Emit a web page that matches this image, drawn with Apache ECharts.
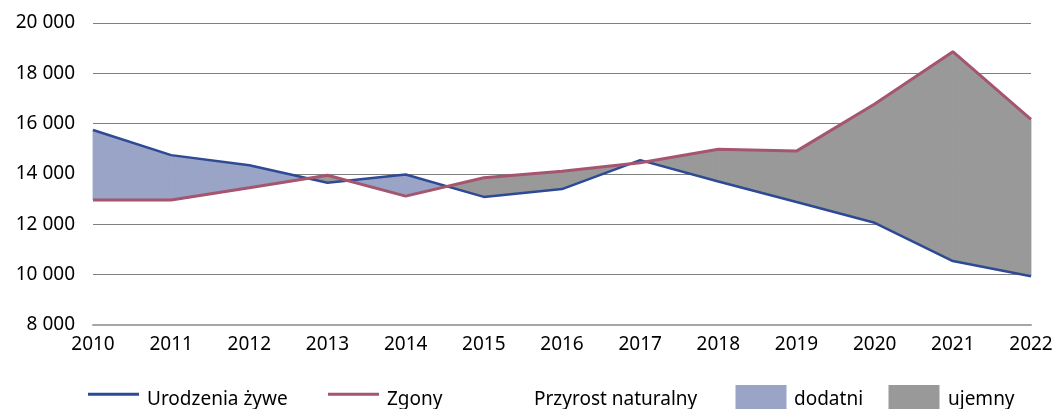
<!DOCTYPE html>
<html>
<head>
<meta charset="utf-8">
<script src="https://cdn.jsdelivr.net/npm/echarts@6/dist/echarts.min.js"></script>
<style>
html,body{margin:0;padding:0;background:#fff;}
#chart{width:1059px;height:409px;}
</style>
</head>
<body>
<div id="chart"></div>
<script>
var years = ['2010','2011','2012','2013','2014','2015','2016','2017','2018','2019','2020','2021','2022'];
var births = [15750, 14750, 14350, 13650, 13980, 13090, 13400, 14550, 13700, 12890, 12060, 10540, 9940];
var deaths = [12970, 12970, 13450, 13950, 13120, 13850, 14110, 14450, 14980, 14910, 16780, 18860, 16170];
var yTicks = [8000, 20000, 2000];
var legendLabels = ['Urodzenia żywe', 'Zgony', 'Przyrost naturalny', 'dodatni', 'ujemny'];

var FONT = 'Noto Sans';
var BLUE = '#2E4A94';
var RED = '#A5566E';
var FILL_POS = '#99A4C7';
var FILL_NEG = '#999999';

var segments = [];
for (var i = 0; i < years.length - 1; i++) {
  segments.push([i, births[i], deaths[i], births[i + 1], deaths[i + 1]]);
}

function fillRender(sign, color) {
  return function (params, api) {
    var i = api.value(0);
    var b0 = api.value(1), d0 = api.value(2), b1 = api.value(3), d1 = api.value(4);
    var pb0 = api.coord([i, b0]), pd0 = api.coord([i, d0]);
    var pb1 = api.coord([i + 1, b1]), pd1 = api.coord([i + 1, d1]);
    var g0 = sign * (b0 - d0), g1 = sign * (b1 - d1);
    var pts;
    if (g0 >= 0 && g1 >= 0) pts = [pb0, pb1, pd1, pd0];
    else if (g0 <= 0 && g1 <= 0) return null;
    else {
      var t = g0 / (g0 - g1);
      var c = [pb0[0] + t * (pb1[0] - pb0[0]), pb0[1] + t * (pb1[1] - pb0[1])];
      if (g0 > 0) pts = [pb0, c, pd0];
      else pts = [c, pb1, pd1];
    }
    return {
      type: 'polygon',
      shape: { points: pts },
      style: { fill: color, stroke: color, lineWidth: 0.8 }
    };
  };
}

var chart = echarts.init(document.getElementById('chart'), null, { renderer: 'canvas' });
var textStyle = { fontFamily: FONT, fontSize: 19, color: '#000' };
var LEG_Y = 400;

function legText(x, s) {
  return { type: 'text', x: x, y: LEG_Y,
    style: { text: s, fontFamily: FONT, fontSize: 19, fill: '#000', verticalAlign: 'middle', align: 'left' } };
}
function legRect(x, y, w, h, color) {
  return { type: 'rect', shape: { x: x, y: y, width: w, height: h }, style: { fill: color } };
}

chart.setOption({
  animation: false,
  backgroundColor: '#fff',
  textStyle: { fontFamily: FONT },
  grid: { left: 93, right: 28, top: 23, bottom: 84, containLabel: false },
  graphic: [
    legRect(88, 392.7, 51, 3, BLUE),
    legText(147, legendLabels[0]),
    legRect(328, 392.7, 51, 3, RED),
    legText(387, legendLabels[1]),
    legText(534, legendLabels[2]),
    legRect(735.5, 385, 51, 26, FILL_POS),
    legText(794, legendLabels[3]),
    legRect(888.5, 385, 51, 26, FILL_NEG),
    legText(948, legendLabels[4])
  ],
  xAxis: {
    type: 'category',
    data: years,
    boundaryGap: false,
    axisLine: { show: true, lineStyle: { color: '#A6A6A6', width: 2 } },
    axisTick: { show: false },
    axisLabel: Object.assign({ margin: 10, interval: 0 }, textStyle),
    splitLine: { show: false }
  },
  yAxis: {
    type: 'value',
    min: yTicks[0], max: yTicks[1], interval: yTicks[2],
    axisLine: { show: false },
    axisTick: { show: false },
    axisLabel: Object.assign({
      margin: 18,
      formatter: function (v) { return String(v).replace(/\B(?=(\d{3})+(?!\d))/g, ' '); }
    }, textStyle),
    splitLine: { show: true, lineStyle: { color: '#808080', width: 1 } }
  },
  series: [
    {
      name: 'dodatni', type: 'custom', z: 1,
      itemStyle: { color: FILL_POS },
      renderItem: fillRender(1, FILL_POS),
      encode: { x: 0, y: [1, 2, 3, 4] },
      data: segments, silent: true
    },
    {
      name: 'ujemny', type: 'custom', z: 1,
      itemStyle: { color: FILL_NEG },
      renderItem: fillRender(-1, FILL_NEG),
      encode: { x: 0, y: [1, 2, 3, 4] },
      data: segments, silent: true
    },
    {
      name: 'Urodzenia żywe', type: 'line', z: 3,
      data: births, symbol: 'none',
      itemStyle: { color: BLUE },
      lineStyle: { color: BLUE, width: 2.5 }
    },
    {
      name: 'Zgony', type: 'line', z: 4,
      data: deaths, symbol: 'none',
      itemStyle: { color: RED },
      lineStyle: { color: RED, width: 3 }
    }
  ]
});
</script>
</body>
</html>
